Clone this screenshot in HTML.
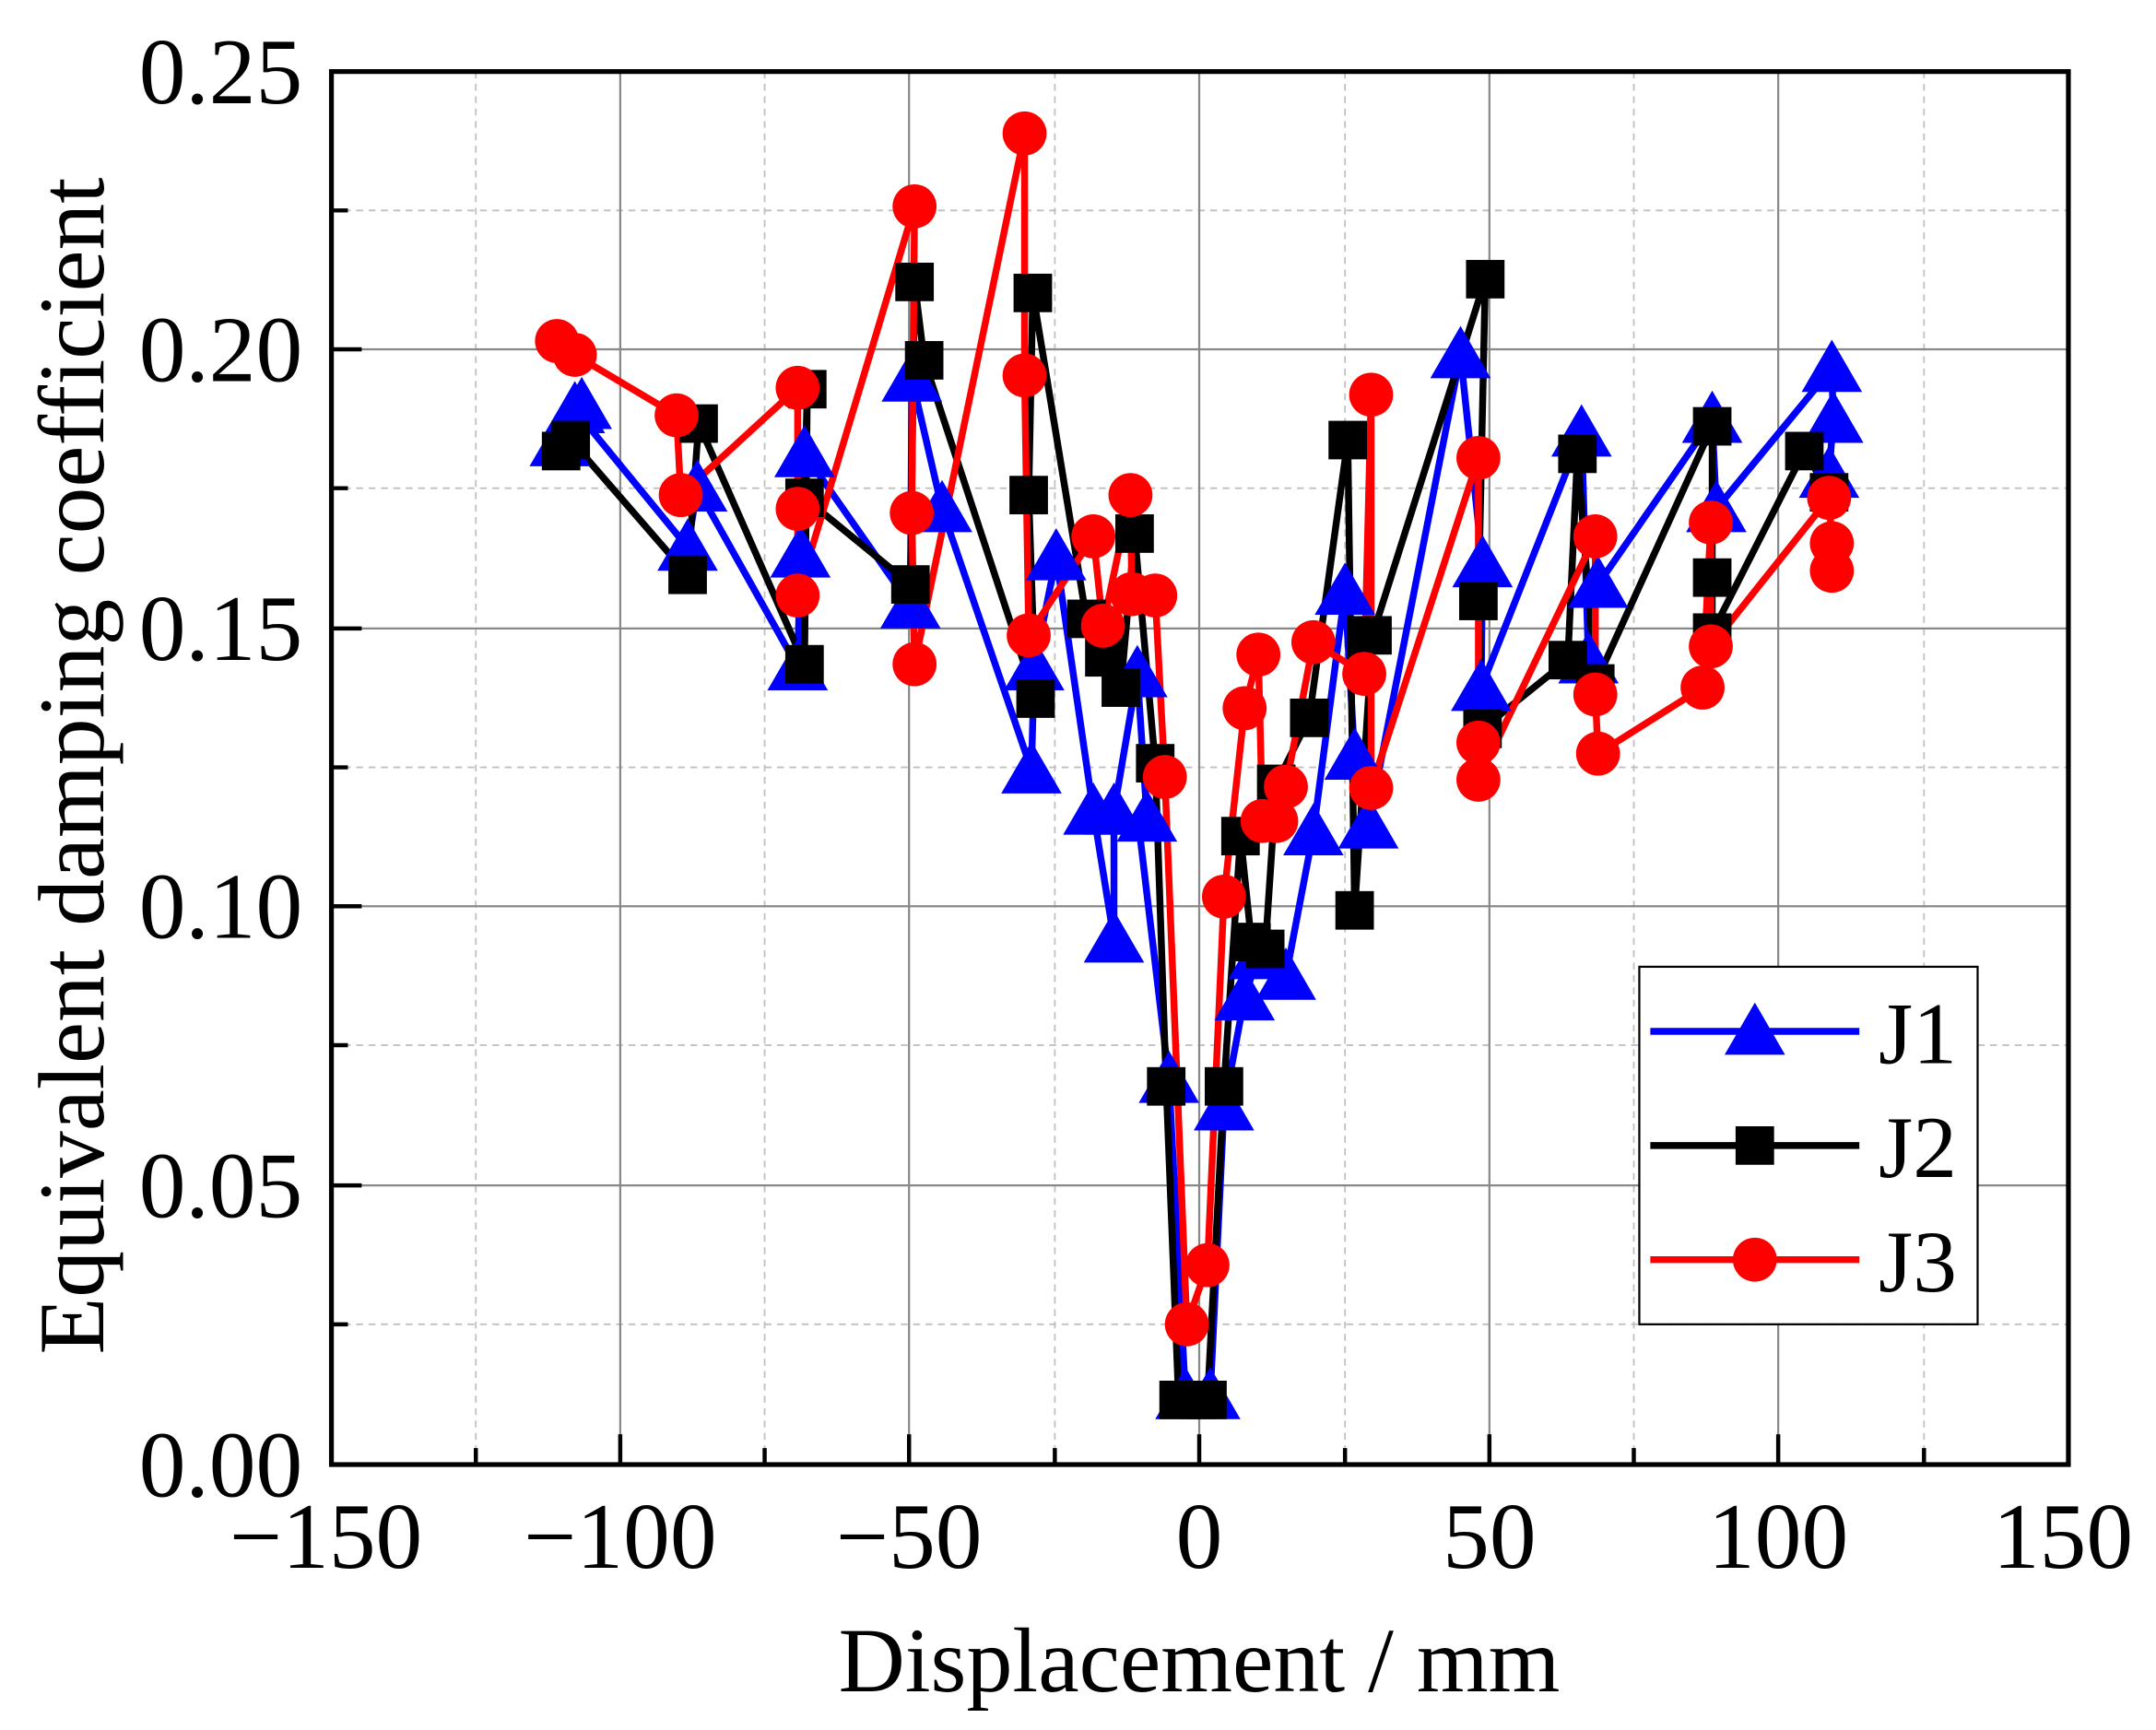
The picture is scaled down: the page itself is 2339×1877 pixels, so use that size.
<!DOCTYPE html>
<html><head><meta charset="utf-8"><style>html,body{margin:0;padding:0;background:#fff}svg{display:block}</style></head>
<body>
<svg xmlns="http://www.w3.org/2000/svg" width="2339" height="1877" viewBox="0 0 1567.7 1258">
<defs>
<path id="tri" d="M0,-21 L22,17 L-22,17 Z" fill="#0000ff"/>
<rect id="sq" x="-14" y="-14" width="28" height="28" fill="#000"/>
<circle id="cir" r="16" fill="#ff0000"/>
</defs>
<rect width="1567.7" height="1258" fill="#fff"/>
<g stroke="#c0c0c0" stroke-width="1.2" stroke-dasharray="5,4">
<line x1="346" y1="52" x2="346" y2="1065"/><line x1="556" y1="52" x2="556" y2="1065"/><line x1="767" y1="52" x2="767" y2="1065"/><line x1="978" y1="52" x2="978" y2="1065"/><line x1="1188" y1="52" x2="1188" y2="1065"/><line x1="1399" y1="52" x2="1399" y2="1065"/>
<line x1="241" y1="963" x2="1504" y2="963"/><line x1="241" y1="760" x2="1504" y2="760"/><line x1="241" y1="558" x2="1504" y2="558"/><line x1="241" y1="355" x2="1504" y2="355"/><line x1="241" y1="153" x2="1504" y2="153"/>
</g>
<g stroke="#888" stroke-width="1.5">
<line x1="451" y1="52" x2="451" y2="1065"/><line x1="661" y1="52" x2="661" y2="1065"/><line x1="872" y1="52" x2="872" y2="1065"/><line x1="1083" y1="52" x2="1083" y2="1065"/><line x1="1293" y1="52" x2="1293" y2="1065"/>
<line x1="241" y1="862" x2="1504" y2="862"/><line x1="241" y1="659" x2="1504" y2="659"/><line x1="241" y1="457" x2="1504" y2="457"/><line x1="241" y1="254" x2="1504" y2="254"/>
</g>
<g stroke="#000" stroke-width="3">
<line x1="346" y1="1065" x2="346" y2="1053"/><line x1="556" y1="1065" x2="556" y2="1053"/><line x1="767" y1="1065" x2="767" y2="1053"/><line x1="978" y1="1065" x2="978" y2="1053"/><line x1="1188" y1="1065" x2="1188" y2="1053"/><line x1="1399" y1="1065" x2="1399" y2="1053"/>
<line x1="451" y1="1065" x2="451" y2="1043"/><line x1="661" y1="1065" x2="661" y2="1043"/><line x1="872" y1="1065" x2="872" y2="1043"/><line x1="1083" y1="1065" x2="1083" y2="1043"/><line x1="1293" y1="1065" x2="1293" y2="1043"/>
<line x1="241" y1="963" x2="253" y2="963"/><line x1="241" y1="760" x2="253" y2="760"/><line x1="241" y1="558" x2="253" y2="558"/><line x1="241" y1="355" x2="253" y2="355"/><line x1="241" y1="153" x2="253" y2="153"/>
<line x1="241" y1="862" x2="263" y2="862"/><line x1="241" y1="659" x2="263" y2="659"/><line x1="241" y1="457" x2="263" y2="457"/><line x1="241" y1="254" x2="263" y2="254"/>
</g>
<polyline fill="none" stroke="#0000ff" stroke-width="5" stroke-linejoin="round" points="407,322 423,295 418,298 500,398 507,355 580,485 582,403 585,330 662,440 663,275 685,370 750,560 752,485 768,405 795,590 810,683 810,590 827,490 834,595 828,600 850,785 862,1015 880,1015 890,805 905,725 915,695 935,710 955,605 978,430 985,550 995,600 1062,258 1078,410 1077,500 1150,315 1155,480 1162,425 1245,305 1248,370 1332,268 1333,305 1330,345"/>
<polyline fill="none" stroke="#000" stroke-width="5" stroke-linejoin="round" points="408,328 415,320 500,418 508,308 585,483 587,283 585,362 662,425 665,205 672,262 753,508 748,360 751,213 790,450 803,478 815,500 825,388 840,555 848,790 857,1018 878,1018 890,790 902,608 910,685 920,690 928,570 952,522 980,320 985,662 998,462 1080,203 1075,437 1078,530 1140,480 1147,330 1160,497 1245,310 1245,420 1245,460 1312,328 1330,358"/>
<polyline fill="none" stroke="#ff0000" stroke-width="5" stroke-linejoin="round" points="405,248 418,258 492,302 495,360 580,282 580,370 580,433 665,150 663,373 665,483 745,97 745,273 748,462 795,390 802,455 822,360 823,432 840,433 847,565 863,963 878,920 890,652 905,515 915,476 918,597 928,597 935,572 955,467 992,490 997,287 997,573 1075,333 1075,540 1075,567 1160,390 1160,505 1162,548 1238,500 1244,380 1244,470 1330,362 1332,395 1332,415"/>
<g>
<use href="#tri" x="407" y="322"/><use href="#tri" x="423" y="295"/><use href="#tri" x="418" y="298"/><use href="#tri" x="500" y="398"/><use href="#tri" x="507" y="355"/><use href="#tri" x="580" y="485"/><use href="#tri" x="582" y="403"/><use href="#tri" x="585" y="330"/><use href="#tri" x="662" y="440"/><use href="#tri" x="663" y="275"/><use href="#tri" x="685" y="370"/><use href="#tri" x="750" y="560"/><use href="#tri" x="752" y="485"/><use href="#tri" x="768" y="405"/><use href="#tri" x="795" y="590"/><use href="#tri" x="810" y="683"/><use href="#tri" x="810" y="590"/><use href="#tri" x="827" y="490"/><use href="#tri" x="834" y="595"/><use href="#tri" x="850" y="785"/><use href="#tri" x="862" y="1015"/><use href="#tri" x="880" y="1015"/><use href="#tri" x="890" y="805"/><use href="#tri" x="905" y="725"/><use href="#tri" x="915" y="695"/><use href="#tri" x="935" y="710"/><use href="#tri" x="955" y="605"/><use href="#tri" x="978" y="430"/><use href="#tri" x="985" y="550"/><use href="#tri" x="995" y="600"/><use href="#tri" x="1062" y="258"/><use href="#tri" x="1078" y="410"/><use href="#tri" x="1077" y="500"/><use href="#tri" x="1150" y="315"/><use href="#tri" x="1155" y="480"/><use href="#tri" x="1162" y="425"/><use href="#tri" x="1245" y="305"/><use href="#tri" x="1248" y="370"/><use href="#tri" x="1332" y="268"/><use href="#tri" x="1333" y="305"/><use href="#tri" x="1330" y="345"/>
</g>
<g>
<use href="#sq" x="408" y="328"/><use href="#sq" x="415" y="320"/><use href="#sq" x="500" y="418"/><use href="#sq" x="508" y="308"/><use href="#sq" x="585" y="483"/><use href="#sq" x="587" y="283"/><use href="#sq" x="585" y="362"/><use href="#sq" x="662" y="425"/><use href="#sq" x="665" y="205"/><use href="#sq" x="672" y="262"/><use href="#sq" x="753" y="508"/><use href="#sq" x="748" y="360"/><use href="#sq" x="751" y="213"/><use href="#sq" x="790" y="450"/><use href="#sq" x="803" y="478"/><use href="#sq" x="815" y="500"/><use href="#sq" x="825" y="388"/><use href="#sq" x="840" y="555"/><use href="#sq" x="848" y="790"/><use href="#sq" x="857" y="1018"/><use href="#sq" x="878" y="1018"/><use href="#sq" x="890" y="790"/><use href="#sq" x="902" y="608"/><use href="#sq" x="910" y="685"/><use href="#sq" x="920" y="690"/><use href="#sq" x="928" y="570"/><use href="#sq" x="952" y="522"/><use href="#sq" x="980" y="320"/><use href="#sq" x="985" y="662"/><use href="#sq" x="998" y="462"/><use href="#sq" x="1080" y="203"/><use href="#sq" x="1075" y="437"/><use href="#sq" x="1078" y="530"/><use href="#sq" x="1140" y="480"/><use href="#sq" x="1147" y="330"/><use href="#sq" x="1160" y="497"/><use href="#sq" x="1245" y="310"/><use href="#sq" x="1245" y="420"/><use href="#sq" x="1245" y="460"/><use href="#sq" x="1312" y="328"/><use href="#sq" x="1330" y="358"/>
</g>
<g>
<use href="#cir" x="405" y="248"/><use href="#cir" x="418" y="258"/><use href="#cir" x="492" y="302"/><use href="#cir" x="495" y="360"/><use href="#cir" x="580" y="282"/><use href="#cir" x="580" y="370"/><use href="#cir" x="580" y="433"/><use href="#cir" x="665" y="150"/><use href="#cir" x="663" y="373"/><use href="#cir" x="665" y="483"/><use href="#cir" x="745" y="97"/><use href="#cir" x="745" y="273"/><use href="#cir" x="748" y="462"/><use href="#cir" x="795" y="390"/><use href="#cir" x="802" y="455"/><use href="#cir" x="822" y="360"/><use href="#cir" x="823" y="432"/><use href="#cir" x="840" y="433"/><use href="#cir" x="847" y="565"/><use href="#cir" x="863" y="963"/><use href="#cir" x="878" y="920"/><use href="#cir" x="890" y="652"/><use href="#cir" x="905" y="515"/><use href="#cir" x="915" y="476"/><use href="#cir" x="918" y="597"/><use href="#cir" x="928" y="597"/><use href="#cir" x="935" y="572"/><use href="#cir" x="955" y="467"/><use href="#cir" x="992" y="490"/><use href="#cir" x="997" y="287"/><use href="#cir" x="997" y="573"/><use href="#cir" x="1075" y="333"/><use href="#cir" x="1075" y="540"/><use href="#cir" x="1075" y="567"/><use href="#cir" x="1160" y="390"/><use href="#cir" x="1160" y="505"/><use href="#cir" x="1162" y="548"/><use href="#cir" x="1238" y="500"/><use href="#cir" x="1244" y="380"/><use href="#cir" x="1244" y="470"/><use href="#cir" x="1330" y="362"/><use href="#cir" x="1332" y="395"/><use href="#cir" x="1332" y="415"/>
</g>
<rect x="241" y="52" width="1263" height="1013" fill="none" stroke="#000" stroke-width="3.5"/>
<rect x="1192" y="703" width="246" height="260" fill="#fff" stroke="#000" stroke-width="1.5"/>
<line x1="1200" y1="750" x2="1352" y2="750" stroke="#0000ff" stroke-width="5"/><use href="#tri" x="1276" y="750"/>
<line x1="1200" y1="833" x2="1352" y2="833" stroke="#000" stroke-width="5"/><use href="#sq" x="1276" y="833"/>
<line x1="1200" y1="916" x2="1352" y2="916" stroke="#ff0000" stroke-width="5"/><use href="#cir" x="1276" y="916"/>
<g font-family="'Liberation Serif', serif" font-size="64" fill="#000">
<text x="1366" y="773">J1</text><text x="1366" y="856">J2</text><text x="1366" y="939">J3</text>
</g>
<g font-family="'Liberation Serif', serif" font-size="68" fill="#000" text-anchor="end">
<text x="220" y="1088">0.00</text><text x="220" y="885">0.05</text><text x="220" y="682">0.10</text><text x="220" y="480">0.15</text><text x="220" y="277">0.20</text><text x="220" y="75">0.25</text>
</g>
<g font-family="'Liberation Serif', serif" font-size="68" fill="#000" text-anchor="middle">
<text x="237" y="1140">−150</text><text x="451" y="1140">−100</text><text x="661" y="1140">−50</text><text x="872" y="1140">0</text><text x="1083" y="1140">50</text><text x="1293" y="1140">100</text><text x="1500" y="1140">150</text>
</g>
<text x="872" y="1230" font-family="'Liberation Serif', serif" font-size="67" text-anchor="middle">Displacement / mm</text>
<text transform="translate(75,557) rotate(-90)" font-family="'Liberation Serif', serif" font-size="68" text-anchor="middle">Equivalent damping coefficient</text>
</svg>
</body></html>
